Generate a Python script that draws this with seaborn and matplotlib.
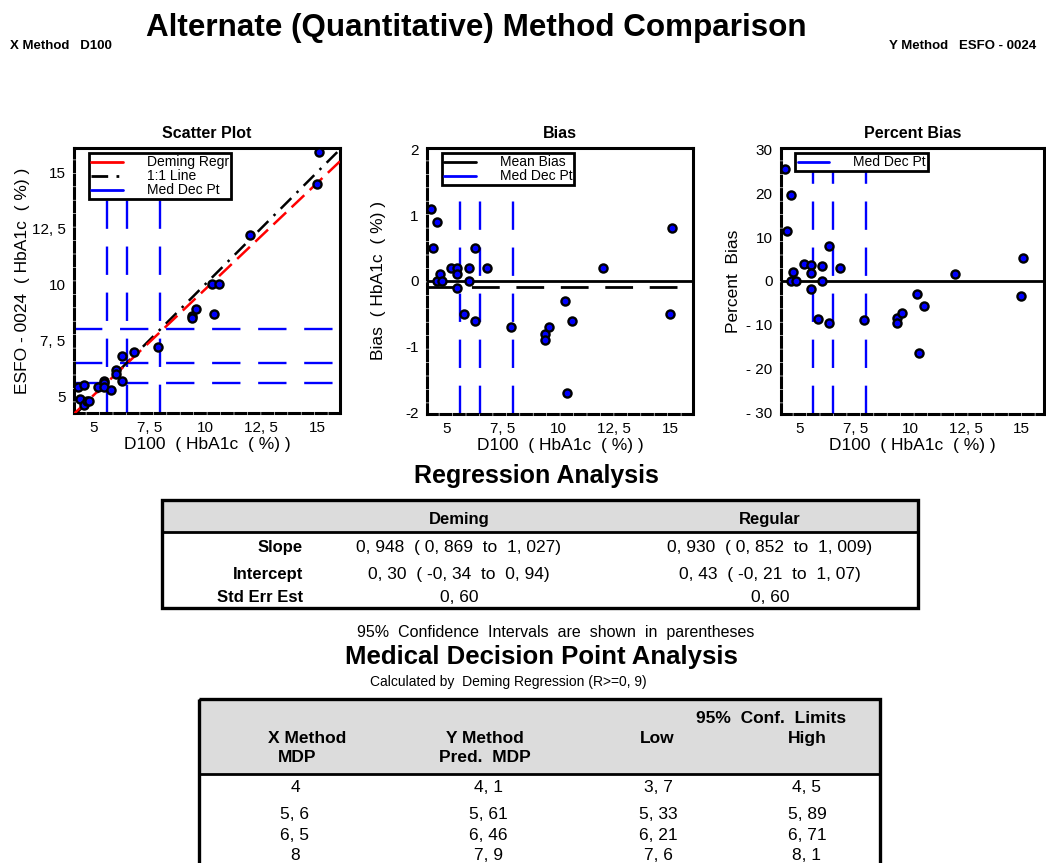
import numpy as np
import pandas as pd
import matplotlib
matplotlib.use("Agg")
import matplotlib.pyplot as plt
import seaborn as sns
from matplotlib import font_manager
from matplotlib.patches import Rectangle
from matplotlib.lines import Line2D

# ---------------- data ----------------
x_d100 = [4.3, 4.4, 4.6, 4.6, 4.7, 4.8, 5.2, 5.5, 5.5, 5.5, 5.8, 6.0, 6.0,
          6.3, 6.3, 6.8, 7.9, 9.4, 9.4, 9.6, 10.3, 10.4, 10.6, 12.0, 15.1, 15.0]
y_esfo = [5.4, 4.9, 5.5, 4.6, 4.8, 4.8, 5.4, 5.7, 5.6, 5.4, 5.3, 6.2, 6.0,
          6.8, 5.7, 7.0, 7.2, 8.6, 8.5, 8.9, 10.0, 8.7, 10.0, 12.2, 15.9, 14.5]
deming_slope = 0.948
deming_intercept = 0.30
med_dec_pts = [4.0, 5.6, 6.5, 8.0]

xy_ticks = [5, 7.5, 10, 12.5, 15]
xy_ticklabels = ["5", "7, 5", "10", "12, 5", "15"]
bias_ticks = [-2, -1, 0, 1, 2]
bias_ticklabels = ["-2", "-1", "0", "1", "2"]
pct_ticks = [-30, -20, -10, 0, 10, 20, 30]
pct_ticklabels = ["- 30", "- 20", "- 10", "0", "10", "20", "30"]

reg_rows = ["Slope", "Intercept", "Std Err Est"]
reg_deming = ["0, 948  ( 0, 869  to  1, 027)", "0, 30  ( -0, 34  to  0, 94)", "0, 60"]
reg_regular = ["0, 930  ( 0, 852  to  1, 009)", "0, 43  ( -0, 21  to  1, 07)", "0, 60"]

mdp_x = ["4", "5, 6", "6, 5", "8"]
mdp_pred = ["4, 1", "5, 61", "6, 46", "7, 9"]
mdp_low = ["3, 7", "5, 33", "6, 21", "7, 6"]
mdp_high = ["4, 5", "5, 89", "6, 71", "8, 1"]

df = pd.DataFrame({"x": x_d100, "y": y_esfo})
df["bias"] = df["y"] - df["x"]
df["pct"] = 100.0 * df["bias"] / df["x"]
mean_bias = df["bias"].mean()

# ---------------- style ----------------
sns.set_style("white")
names = {f.name for f in font_manager.fontManager.ttflist}
HAS_NARROW = "Liberation Sans Narrow" in names
NARROW = "Liberation Sans Narrow" if HAS_NARROW else "Liberation Sans"
plt.rcParams["font.family"] = ["Liberation Sans", "DejaVu Sans"]
for k in ["text.color", "axes.labelcolor", "xtick.color", "ytick.color"]:
    plt.rcParams[k] = "black"

W, H = 1046, 863
fig = plt.figure(figsize=(W / 100, H / 100), dpi=100)
fig.patch.set_facecolor("white")


def px_axes(l, t, r, b):
    return fig.add_axes([l / W, 1 - b / H, (r - l) / W, (b - t) / H])


BLUE = "#0000ff"
RED = "#ff0000"
xlim = (4.14, 16.03)
blue_dash = (0, (12, 7.5))
one_one = (0, (6, 3, 1, 3))


def style_axes(ax, title):
    for s in ["top", "right"]:
        ax.spines[s].set_linewidth(2.2)
        ax.spines[s].set_color("black")
    for s in ["left", "bottom"]:
        ax.spines[s].set_linewidth(2.2)
        ax.spines[s].set_color("black")
        ax.spines[s].set_linestyle((0, (3.2, 1.2)))
    ax.tick_params(direction="out", length=4, width=1.5, labelsize=11,
                   color="black", pad=2)
    ax.set_title(title, fontweight="bold", fontsize=11.5, pad=7, family=NARROW)
    ax.set_xlim(*xlim)
    ax.set_xticks(xy_ticks)
    ax.set_xticklabels(xy_ticklabels)
    ax.set_xlabel("D100  ( HbA1c  ( %) )", fontsize=12.5, labelpad=1)


def legend(ax, handles, labels, anchor):
    lg = ax.legend(handles, labels, loc="upper left", bbox_to_anchor=anchor,
                   frameon=True, fancybox=False, framealpha=1, fontsize=10,
                   labelspacing=0.0, borderpad=0.15, handlelength=2.3,
                   handletextpad=1.7, borderaxespad=0)
    lg.get_frame().set_edgecolor("black")
    lg.get_frame().set_linewidth(2)
    lg.set_zorder(10)
    return lg


# ---------------- Scatter plot ----------------
ax1 = px_axes(74, 148, 340, 413)
for v in med_dec_pts:
    ax1.axvline(v, color=BLUE, lw=1.7, ls=blue_dash, zorder=1)
    ax1.axhline(v, color=BLUE, lw=1.7, ls=blue_dash, zorder=1)
xx = np.array(xlim)
ax1.plot(xx, xx, color="black", lw=1.8, ls=one_one, zorder=2)
ax1.plot(xx, deming_intercept + deming_slope * xx, color=RED, lw=1.8,
         ls=(0, (7, 3)), zorder=3)
sns.scatterplot(data=df, x="x", y="y", ax=ax1, color=BLUE, edgecolor="black",
                linewidth=1.7, s=34, zorder=5, legend=False)
style_axes(ax1, "Scatter Plot")
ax1.set_ylim(4.26, 16.09)
ax1.set_yticks(xy_ticks)
ax1.set_yticklabels(xy_ticklabels)
ax1.set_ylabel("ESFO - 0024  ( HbA1c  ( %) )", fontsize=12.5, labelpad=1)
legend(ax1,
       [Line2D([], [], color=RED, lw=2), Line2D([], [], color="black", lw=2, ls=one_one),
        Line2D([], [], color=BLUE, lw=2)],
       ["Deming Regr", "1:1 Line", "Med Dec Pt"], (0.056, 0.98))

# ---------------- Bias plot ----------------
ax2 = px_axes(427, 148, 693, 414)
for v in med_dec_pts:
    ax2.axvline(v, color=BLUE, lw=1.7, ls=blue_dash, zorder=1)
ax2.axhline(0, color="black", lw=2, zorder=2)
ax2.axhline(mean_bias, color="black", lw=2, ls=(0, (10, 6)), zorder=2)
sns.scatterplot(data=df, x="x", y="bias", ax=ax2, color=BLUE, edgecolor="black",
                linewidth=1.7, s=34, zorder=5, legend=False)
style_axes(ax2, "Bias")
ax2.set_ylim(-2.02, 2.02)
ax2.set_yticks(bias_ticks)
ax2.set_yticklabels(bias_ticklabels)
ax2.set_ylabel("Bias  ( HbA1c  ( %) )", fontsize=12.5, labelpad=14)
legend(ax2, [Line2D([], [], color="black", lw=2), Line2D([], [], color=BLUE, lw=2)],
       ["Mean Bias", "Med Dec Pt"], (0.056, 0.98))

# ---------------- Percent bias plot ----------------
ax3 = px_axes(781, 148, 1044, 414)
for v in med_dec_pts:
    ax3.axvline(v, color=BLUE, lw=1.7, ls=blue_dash, zorder=1)
ax3.axhline(0, color="black", lw=2, zorder=2)
sns.scatterplot(data=df, x="x", y="pct", ax=ax3, color=BLUE, edgecolor="black",
                linewidth=1.7, s=34, zorder=5, legend=False)
style_axes(ax3, "Percent Bias")
ax3.set_ylim(-30.3, 30.3)
ax3.set_yticks(pct_ticks)
ax3.set_yticklabels(pct_ticklabels)
ax3.set_ylabel("Percent  Bias", fontsize=12.5, labelpad=4)
legend(ax3, [Line2D([], [], color=BLUE, lw=2)], ["Med Dec Pt"], (0.055, 0.98))

# ---------------- overlay (pixel coordinates) ----------------
ov = fig.add_axes([0, 0, 1, 1])
ov.set_xlim(0, W)
ov.set_ylim(H, 0)
ov.axis("off")
ov.set_zorder(-1)

ov.text(476, 28, "Alternate (Quantitative) Method Comparison", ha="center", va="center",
        fontsize=25 if HAS_NARROW else 22.6, fontweight="bold", family=NARROW)
ov.text(10, 46, "X Method   D100", ha="left", va="center", fontsize=9.5,
        fontweight="bold", family=NARROW)
ov.text(1036, 46, "Y Method   ESFO - 0024", ha="right", va="center", fontsize=9.5,
        fontweight="bold", family=NARROW)

GRAY = "#dcdcdc"
# Regression table
ov.text(536, 476, "Regression Analysis", ha="center", va="center", fontsize=18,
        fontweight="bold")
ov.add_patch(Rectangle((162, 500), 918 - 162, 32, facecolor=GRAY, edgecolor="none"))
ov.add_patch(Rectangle((162, 500), 918 - 162, 108, facecolor="none",
                       edgecolor="black", lw=2.4))
ov.plot([162, 918], [532, 532], color="black", lw=2)
ov.text(459, 519, "Deming", ha="center", va="center", fontsize=12, fontweight="bold",
        family=NARROW)
ov.text(770, 519, "Regular", ha="center", va="center", fontsize=12, fontweight="bold",
        family=NARROW)
for i, yrow in enumerate([547, 574, 597]):
    ov.text(303, yrow, reg_rows[i], ha="right", va="center", fontsize=12,
            fontweight="bold", family=NARROW)
    ov.text(459, yrow, reg_deming[i], ha="center", va="center", fontsize=12.5)
    ov.text(770, yrow, reg_regular[i], ha="center", va="center", fontsize=12.5)
ov.text(556, 632, "95%  Confidence  Intervals  are  shown  in  parentheses", ha="center",
        va="center", fontsize=11.5)

# MDP table
ov.text(541, 657, "Medical Decision Point Analysis", ha="center", va="center",
        fontsize=18.5, fontweight="bold")
ov.text(508, 682, "Calculated by  Deming Regression (R>=0, 9)", ha="center",
        va="center", fontsize=10)
ov.add_patch(Rectangle((199, 699), 880 - 199, 75, facecolor=GRAY, edgecolor="none"))
ov.add_patch(Rectangle((199, 699), 880 - 199, 240, facecolor="none",
                       edgecolor="black", lw=2.4, clip_on=False))
ov.plot([199, 880], [774, 774], color="black", lw=2)
hdr = dict(ha="center", va="center", fontsize=12.5, fontweight="bold", family=NARROW)
ov.text(307, 738, "X Method", **hdr)
ov.text(297, 757, "MDP", **hdr)
ov.text(485, 738, "Y Method", **hdr)
ov.text(485, 757, "Pred.  MDP", **hdr)
ov.text(771, 718, "95%  Conf.  Limits", **hdr)
ov.text(657, 738, "Low", **hdr)
ov.text(807, 738, "High", **hdr)
for i, yrow in enumerate([787, 814, 835, 855]):
    ov.text(295, yrow, mdp_x[i], ha="center", va="center", fontsize=12.5)
    ov.text(488, yrow, mdp_pred[i], ha="center", va="center", fontsize=12.5)
    ov.text(658, yrow, mdp_low[i], ha="center", va="center", fontsize=12.5)
    ov.text(807, yrow, mdp_high[i], ha="center", va="center", fontsize=12.5)

fig.savefig("out.png", dpi=100, facecolor="white")
